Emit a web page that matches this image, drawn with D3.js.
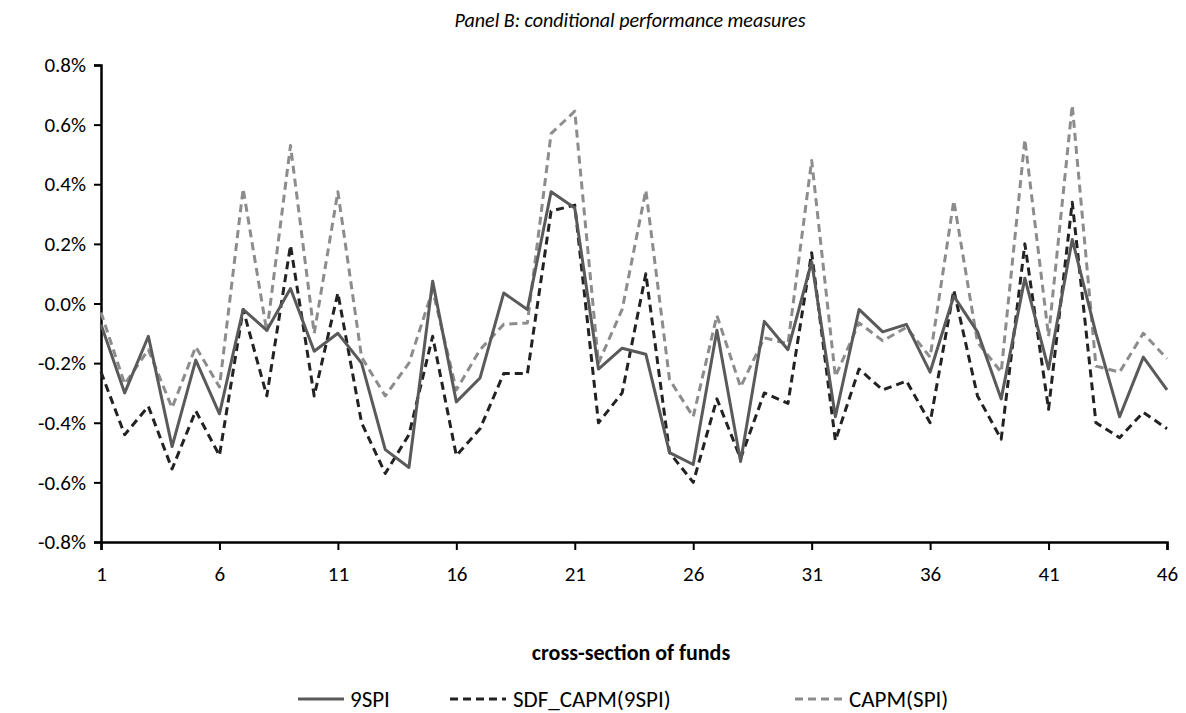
<!DOCTYPE html>
<html>
<head>
<meta charset="utf-8">
<script src="https://cdn.jsdelivr.net/npm/d3@7"></script>
<style>
  html, body { margin: 0; padding: 0; background: #fff; }
  svg { display: block; }
  text { font-family: Carlito, Lato, "Open Sans", sans-serif; fill: #000; }
</style>
</head>
<body>
<svg id="chart" width="1186" height="713"></svg>
<script>
const funds = d3.range(1, 47);
const series9SPI = [-0.07,-0.30,-0.11,-0.48,-0.19,-0.37,-0.02,-0.09,0.05,-0.16,-0.10,-0.20,-0.49,-0.55,0.075,-0.33,-0.25,0.035,-0.02,0.375,0.32,-0.22,-0.15,-0.17,-0.50,-0.54,-0.09,-0.53,-0.06,-0.155,0.14,-0.38,-0.02,-0.095,-0.07,-0.23,0.025,-0.095,-0.32,0.085,-0.22,0.215,-0.10,-0.38,-0.18,-0.29];
const seriesSDF = [-0.23,-0.44,-0.345,-0.555,-0.36,-0.51,-0.02,-0.31,0.195,-0.31,0.035,-0.40,-0.57,-0.44,-0.11,-0.51,-0.42,-0.235,-0.235,0.31,0.33,-0.40,-0.30,0.10,-0.50,-0.60,-0.32,-0.52,-0.30,-0.335,0.17,-0.46,-0.22,-0.29,-0.26,-0.40,0.045,-0.31,-0.455,0.20,-0.355,0.34,-0.40,-0.45,-0.365,-0.42];
const seriesCAPM = [-0.03,-0.27,-0.155,-0.35,-0.145,-0.28,0.385,-0.095,0.53,-0.10,0.375,-0.18,-0.31,-0.20,0.045,-0.29,-0.155,-0.07,-0.065,0.57,0.645,-0.20,-0.02,0.38,-0.255,-0.38,-0.04,-0.28,-0.115,-0.135,0.48,-0.245,-0.065,-0.125,-0.08,-0.18,0.345,-0.13,-0.23,0.55,-0.11,0.665,-0.21,-0.23,-0.10,-0.185];
const yTicks = [-0.8,-0.6,-0.4,-0.2,0.0,0.2,0.4,0.6,0.8];
const yTickLabels = ["-0.8%","-0.6%","-0.4%","-0.2%","0.0%","0.2%","0.4%","0.6%","0.8%"];
const xTicks = [1,6,11,16,21,26,31,36,41,46];
const seriesNames = ["9SPI","SDF_CAPM(9SPI)","CAPM(SPI)"];

const svg = d3.select("#chart");
const mLeft = 101, mRight = 1167, mTop = 65, mBottom = 542;
const FONT = "Carlito, Lato, 'Open Sans', sans-serif";

const x = d3.scaleLinear().domain([1, 46]).range([mLeft, mRight]);
const y = d3.scaleLinear().domain([-0.8, 0.8]).range([mBottom, mTop]);

// title
svg.append("text").attr("x", 630).attr("y", 27).attr("text-anchor", "middle")
  .attr("font-style", "italic").attr("font-size", 20).text("Panel B: conditional performance measures");

// y axis
const yAxis = svg.append("g").attr("transform", `translate(${mLeft},0)`)
  .call(d3.axisLeft(y).tickValues(yTicks).tickSize(7).tickPadding(8)
    .tickFormat((d, i) => yTickLabels[i]));
yAxis.select(".domain").attr("stroke", "#000").attr("stroke-width", 2.5);
yAxis.selectAll(".tick line").attr("stroke", "#000").attr("stroke-width", 2);
yAxis.selectAll(".tick text").attr("font-size", 21).attr("font-family", FONT).attr("fill", "#000");

// x axis
const xAxis = svg.append("g").attr("transform", `translate(0,${mBottom})`)
  .call(d3.axisBottom(x).tickValues(xTicks).tickSize(8).tickPadding(16).tickFormat(d3.format("d")));
xAxis.select(".domain").attr("stroke", "#000").attr("stroke-width", 2.5);
xAxis.selectAll(".tick line").attr("stroke", "#000").attr("stroke-width", 2);
xAxis.selectAll(".tick text").attr("font-size", 21).attr("font-family", FONT).attr("fill", "#000");

// lines
const styles = [
  { data: series9SPI, color: "#5a5a5a", dash: null, width: 3 },
  { data: seriesSDF, color: "#222222", dash: "8,5", width: 3 },
  { data: seriesCAPM, color: "#8c8c8c", dash: "8,5", width: 3 }
];
const line = d3.line().x((d, i) => x(funds[i])).y(d => y(d));
styles.slice().reverse().forEach(s => {
  svg.append("path").datum(s.data).attr("d", line)
    .attr("fill", "none").attr("stroke", s.color).attr("stroke-width", s.width)
    .attr("stroke-dasharray", s.dash).attr("stroke-linejoin", "round");
});

// axis title
svg.append("text").attr("x", 631).attr("y", 660).attr("text-anchor", "middle")
  .attr("font-weight", "bold").attr("font-size", 22).text("cross-section of funds");

// legend
const legendItems = [
  { x1: 298, x2: 344, tx: 350, s: styles[0], name: seriesNames[0] },
  { x1: 450, x2: 506, tx: 513, s: styles[1], name: seriesNames[1] },
  { x1: 795, x2: 843, tx: 849, s: styles[2], name: seriesNames[2] }
];
const ly = 699;
legendItems.forEach(it => {
  svg.append("line").attr("x1", it.x1).attr("x2", it.x2).attr("y1", ly).attr("y2", ly)
    .attr("stroke", it.s.color).attr("stroke-width", it.s.width).attr("stroke-dasharray", it.s.dash);
  svg.append("text").attr("x", it.tx).attr("y", ly + 8).attr("font-size", 23).text(it.name);
});
</script>
</body>
</html>
